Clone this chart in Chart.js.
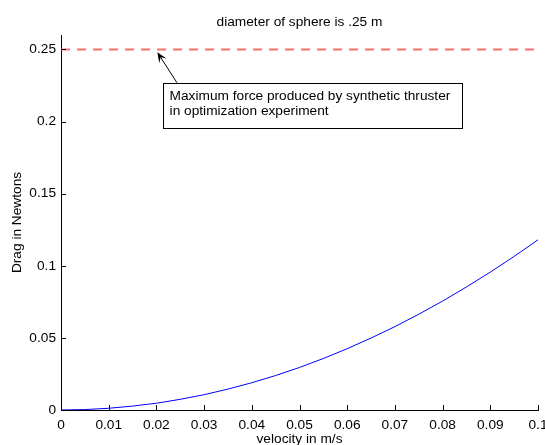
<!DOCTYPE html>
<html>
<head>
<meta charset="utf-8">
<script src="https://cdn.jsdelivr.net/npm/chart.js@4.4.1/dist/chart.umd.min.js"></script>
<style>
  html, body { margin: 0; padding: 0; background: #fff; }
  #wrap { width: 545px; height: 445px; }
</style>
</head>
<body>
<div id="wrap"><canvas id="canvas-1" width="545" height="445"></canvas></div>
<script>
'use strict';

// velocity (m/s) and drag (N)
var velocity = [0, 0.005, 0.01, 0.015, 0.02, 0.025, 0.03, 0.035, 0.04, 0.045, 0.05,
                0.055, 0.06, 0.065, 0.07, 0.075, 0.08, 0.085, 0.09, 0.095, 0.1];
var drag = [0, 0.0003, 0.0012, 0.0027, 0.0047, 0.0074, 0.0106, 0.0145, 0.0189, 0.0239, 0.0295,
            0.0357, 0.0425, 0.0499, 0.0578, 0.0664, 0.0755, 0.0853, 0.0956, 0.1065, 0.118];
// max thruster force line
var maxForceX = [0, 0.1];
var maxForce = [0.25, 0.25];

var xTicks = [0, 0.01, 0.02, 0.03, 0.04, 0.05, 0.06, 0.07, 0.08, 0.09, 0.1];
var yTicks = [0, 0.05, 0.1, 0.15, 0.2, 0.25];

var titleText = 'diameter of sphere is .25 m';
var noteLines = ['Maximum force produced by synthetic thruster', 'in optimization experiment'];
// annotation in data units
var arrowTip = [0.0202, 0.248];
var arrowTail = [0.0243, 0.227];
var noteBoxX = [0.0213, 0.0840];
var noteBoxY = [0.196, 0.227];

var FONT = '"Liberation Sans", Arial, Helvetica, sans-serif';
var FSIZE = 13.7;

var dragData = [];
for (var i = 0; i < velocity.length; i++) {
    dragData.push({x: velocity[i], y: drag[i]});
}
var maxData = [];
for (var j = 0; j < maxForceX.length; j++) {
    maxData.push({x: maxForceX[j], y: maxForce[j]});
}

function keepTicks(list) {
    return function (scale) {
        scale.ticks = list.map(function (v) { return {value: v}; });
    };
}

// matlab style bits: inward ticks, title over plot area, text arrow
var matlabBits = {
    id: 'matlabBits',
    afterDraw: function (chart) {
        var ctx = chart.ctx;
        var xs = chart.scales.x, ys = chart.scales.y;
        var area = chart.chartArea;
        ctx.save();

        // inward tick marks
        ctx.strokeStyle = '#000';
        ctx.lineWidth = 1;
        ctx.beginPath();
        xTicks.forEach(function (v) {
            var px = Math.round(xs.getPixelForValue(v)) + 0.5;
            ctx.moveTo(px, area.bottom);
            ctx.lineTo(px, area.bottom - 5);
        });
        yTicks.forEach(function (v) {
            var py = Math.round(ys.getPixelForValue(v)) + 0.5;
            ctx.moveTo(area.left, py);
            ctx.lineTo(area.left + 5, py);
        });
        ctx.stroke();

        // title
        ctx.fillStyle = '#000';
        ctx.font = FSIZE + 'px ' + FONT;
        ctx.textAlign = 'center';
        ctx.textBaseline = 'alphabetic';
        ctx.fillText(titleText, (area.left + area.right) / 2, 26);

        // annotation box
        var bx0 = xs.getPixelForValue(noteBoxX[0]), bx1 = xs.getPixelForValue(noteBoxX[1]);
        var by0 = ys.getPixelForValue(noteBoxY[1]), by1 = ys.getPixelForValue(noteBoxY[0]);
        ctx.fillStyle = '#fff';
        ctx.fillRect(bx0, by0, bx1 - bx0, by1 - by0);
        ctx.strokeStyle = '#000';
        ctx.strokeRect(Math.round(bx0) + 0.5, Math.round(by0) + 0.5, Math.round(bx1 - bx0), Math.round(by1 - by0));
        ctx.fillStyle = '#000';
        ctx.textAlign = 'left';
        noteLines.forEach(function (t, k) {
            ctx.fillText(t, bx0 + 7, by0 + 17 + k * 15);
        });

        // arrow
        var tx = xs.getPixelForValue(arrowTip[0]), ty = ys.getPixelForValue(arrowTip[1]);
        var sx = xs.getPixelForValue(arrowTail[0]), sy = ys.getPixelForValue(arrowTail[1]);
        var ang = Math.atan2(ty - sy, tx - sx);
        ctx.beginPath();
        ctx.moveTo(sx, sy);
        ctx.lineTo(tx - 6 * Math.cos(ang), ty - 6 * Math.sin(ang));
        ctx.stroke();
        var hl = 11, hw = 0.4;
        ctx.beginPath();
        ctx.moveTo(tx, ty);
        ctx.lineTo(tx - hl * Math.cos(ang - hw), ty - hl * Math.sin(ang - hw));
        ctx.lineTo(tx - 6 * Math.cos(ang), ty - 6 * Math.sin(ang));
        ctx.lineTo(tx - hl * Math.cos(ang + hw), ty - hl * Math.sin(ang + hw));
        ctx.closePath();
        ctx.fill();

        ctx.restore();
    }
};

var ctx = document.getElementById('canvas-1');
var chart = new Chart(ctx, {
    type: 'line',
    data: {
        datasets: [
            {
                label: 'drag',
                data: dragData,
                borderColor: '#0000ff',
                borderWidth: 1,
                pointRadius: 0,
                tension: 0,
                fill: false
            },
            {
                label: 'max force',
                data: maxData,
                borderColor: '#ff6e6e',
                borderWidth: 2,
                borderDash: [9, 7],
                pointRadius: 0,
                fill: false
            }
        ]
    },
    options: {
        responsive: false,
        animation: false,
        devicePixelRatio: 1,
        layout: {padding: {top: 35, right: 7, left: 0, bottom: 0}},
        plugins: {
            legend: {display: false},
            title: {display: false},
            tooltip: {enabled: false}
        },
        scales: {
            x: {
                type: 'linear',
                min: 0,
                max: 0.1,
                afterBuildTicks: keepTicks(xTicks),
                afterFit: function (scale) {
                    scale.height = 35;
                    scale.paddingLeft = 0;
                    scale.paddingRight = 0;
                },
                grid: {display: false, drawTicks: false},
                border: {display: true, color: '#000', width: 1},
                ticks: {
                    color: '#000',
                    padding: 7,
                    maxRotation: 0,
                    autoSkip: false,
                    font: {family: FONT, size: FSIZE},
                    callback: function (v) { return String(+v.toFixed(2)); }
                },
                title: {
                    display: true,
                    text: 'velocity in m/s',
                    color: '#000',
                    padding: {top: 0, bottom: -2},
                    font: {family: FONT, size: FSIZE}
                }
            },
            y: {
                type: 'linear',
                min: 0,
                max: 0.26,
                afterBuildTicks: keepTicks(yTicks),
                afterFit: function (scale) {
                    scale.width = 61;
                    scale.paddingTop = 0;
                    scale.paddingBottom = 0;
                },
                grid: {display: false, drawTicks: false},
                border: {display: true, color: '#000', width: 1},
                ticks: {
                    color: '#000',
                    padding: 5,
                    autoSkip: false,
                    font: {family: FONT, size: FSIZE},
                    callback: function (v) { return String(+v.toFixed(2)); }
                },
                title: {
                    display: true,
                    text: 'Drag in Newtons',
                    color: '#000',
                    padding: {top: 9, bottom: 0},
                    font: {family: FONT, size: FSIZE}
                }
            }
        }
    },
    plugins: [matlabBits]
});
</script>
</body>
</html>
